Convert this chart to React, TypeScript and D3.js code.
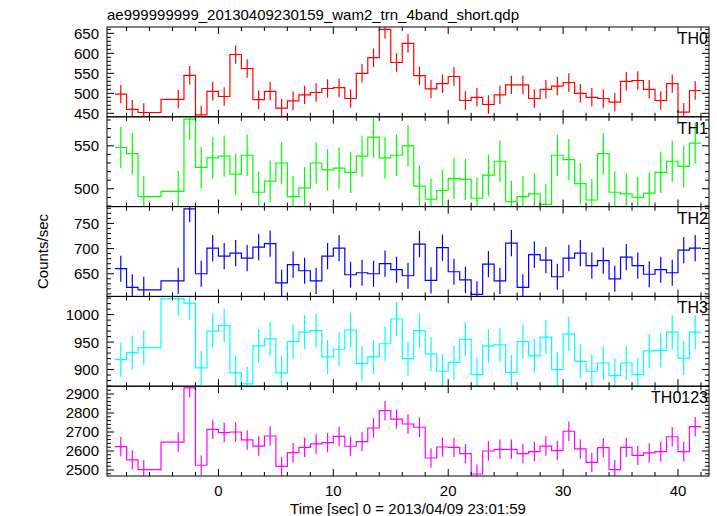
import React from "react";
import * as d3 from "d3";

const title = "ae999999999_20130409230159_wam2_trn_4band_short.qdp";
const xLabel = "Time [sec] 0 = 2013/04/09 23:01:59";
const yLabel = "Counts/sec";

const times = [
  -8.5, -7.5, -6.5, -3.5, -2.5, -1.5, -0.5, 0.5, 1.5, 2.5, 3.5, 4.5, 5.5, 6.5, 7.5, 8.5,
  9.5, 10.5, 11.5, 12.5, 13.5, 14.5, 15.5, 16.5, 17.5, 18.5, 19.5, 20.5, 21.5, 22.5, 23.5,
  24.5, 25.5, 26.5, 27.5, 28.5, 29.5, 30.5, 31.5, 32.5, 33.5, 34.5, 35.5, 36.5, 37.5, 38.5,
  39.5, 40.5, 41.5,
];

const th0 = [
  498, 460, 452, 485, 545, 446, 505, 492, 597, 562, 484, 505, 463, 481, 496, 502,
  512, 514, 487, 550, 589, 660, 577, 625, 544, 511, 524, 542, 482, 490, 472,
  496, 521, 521, 487, 510, 518, 527, 500, 490, 487, 478, 530, 532, 510, 482,
  524, 453, 507,
];
const th1 = [
  548, 541, 491, 497, 581, 525, 536, 538, 517, 539, 496, 509, 530, 491, 501, 530,
  522, 524, 519, 538, 560, 536, 539, 550, 503, 488, 498, 512, 511, 489, 516,
  532, 485, 491, 494, 482, 539, 534, 506, 487, 541, 496, 494, 490, 495, 519,
  532, 526, 553,
];
const th2 = [
  660, 623, 618, 636, 779, 650, 701, 685, 691, 681, 703, 710, 632, 668, 656, 636,
  685, 701, 648, 652, 650, 670, 658, 646, 709, 637, 702, 654, 638, 609, 669,
  636, 711, 623, 688, 677, 644, 681, 691, 666, 676, 640, 683, 666, 649, 658,
  652, 697, 701,
];
const th3 = [
  918, 931, 940, 1029, 1021, 903, 970, 980, 894, 874, 943, 956, 894, 951, 968, 971,
  923, 937, 972, 911, 923, 947, 992, 920, 971, 928, 897, 913, 955, 891, 943,
  945, 895, 951, 925, 959, 900, 965, 915, 897, 912, 889, 912, 891, 934, 935,
  968, 921, 968,
];
const th0123 = [
  2623, 2553, 2502, 2647, 2932, 2525, 2714, 2697, 2700, 2658, 2626, 2679, 2519, 2591, 2619, 2637,
  2644, 2677, 2625, 2649, 2721, 2812, 2768, 2742, 2725, 2563, 2621, 2619, 2586, 2479, 2600,
  2609, 2609, 2586, 2597, 2626, 2602, 2704, 2611, 2540, 2618, 2502, 2619, 2577, 2590, 2597,
  2675, 2597, 2728,
];

const seriesNames = ["TH0", "TH1", "TH2", "TH3", "TH0123"];
const seriesColors = ["#ff0000", "#00ff00", "#0000ff", "#00ffff", "#ff00ff"];
const seriesErrors = [23, 24, 26, 31, 51];
const yDomains: [number, number][] = [
  [441.3, 665.8],
  [479.3, 583.7],
  [605.0, 783.4],
  [869.8, 1033.1],
  [2468.4, 2941],
];
const yMajorTicks = [
  [450, 500, 550, 600, 650],
  [500, 550],
  [650, 700, 750],
  [900, 950, 1000],
  [2500, 2600, 2700, 2800, 2900],
];
const yMinorSteps = [10, 10, 10, 10, 20];
const xDomain: [number, number] = [-9.7, 42.7];
const xMajorTicks = [0, 10, 20, 30, 40];

const W = 717;
const H = 516;
const L = 107;
const R = 709;
const TOP = 27;
const BOT = 476;
const FONT = "'Liberation Sans', Arial, Helvetica, sans-serif";

export default function App() {
  const allSeries = [th0, th1, th2, th3, th0123];
  const nP = allSeries.length;
  const ph = (BOT - TOP) / nP;
  const x = d3.scaleLinear().domain(xDomain).range([L, R]);
  const xMinor = d3.range(-8, 43, 2);

  return (
    <svg
      width={W}
      height={H}
      style={{ position: "absolute", left: 0, top: 0, background: "#fff" }}
      fontFamily={FONT}
    >
      <defs>
        {allSeries.map((_, i) => (
          <clipPath id={`clip${i}`} key={i}>
            <rect x={L} y={TOP + i * ph} width={R - L} height={ph} />
          </clipPath>
        ))}
      </defs>
      <text x={L} y={20} fontSize={15} fill="#000">
        {title}
      </text>
      {allSeries.map((vals, i) => {
        const y0 = TOP + i * ph;
        const y1 = y0 + ph;
        const y = d3.scaleLinear().domain(yDomains[i]).range([y1, y0]);
        const n = times.length;
        let d = "";
        for (let k = 0; k < n; k++) {
          const left = k === 0 ? times[k] - 0.5 : (times[k - 1] + times[k]) / 2;
          const right = k === n - 1 ? times[k] + 0.5 : (times[k] + times[k + 1]) / 2;
          const yy = y(vals[k]);
          if (k === 0) d += `M${x(left)},${yy}`;
          else d += `V${yy}`;
          d += `H${x(right)}`;
        }
        const color = seriesColors[i];
        const err = seriesErrors[i];
        const [lo, hi] = yDomains[i];
        const minors = d3
          .range(Math.ceil(lo / yMinorSteps[i]) * yMinorSteps[i], hi, yMinorSteps[i])
          .filter((v) => !yMajorTicks[i].includes(v));
        return (
          <g key={i}>
            <g clipPath={`url(#clip${i})`}>
              <path d={d} fill="none" stroke={color} strokeWidth={1.2} />
              {times.map((t, k) => (
                <line
                  key={k}
                  x1={x(t)}
                  x2={x(t)}
                  y1={y(vals[k] - err)}
                  y2={y(vals[k] + err)}
                  stroke={color}
                  strokeWidth={1.2}
                />
              ))}
            </g>
            <rect x={L} y={y0} width={R - L} height={ph} fill="none" stroke="#000" strokeWidth={1} />
            {xMinor.map((t) => {
              const major = xMajorTicks.includes(t);
              const len = major ? 7 : 4;
              return (
                <g key={`xt${t}`}>
                  <line x1={x(t)} x2={x(t)} y1={y0} y2={y0 + len} stroke="#000" />
                  <line x1={x(t)} x2={x(t)} y1={y1} y2={y1 - len} stroke="#000" />
                </g>
              );
            })}
            {minors.map((v) => (
              <g key={`ym${v}`}>
                <line x1={L} x2={L + 4} y1={y(v)} y2={y(v)} stroke="#000" />
                <line x1={R} x2={R - 4} y1={y(v)} y2={y(v)} stroke="#000" />
              </g>
            ))}
            {yMajorTicks[i].map((v) => (
              <g key={`yM${v}`}>
                <line x1={L} x2={L + 7} y1={y(v)} y2={y(v)} stroke="#000" />
                <line x1={R} x2={R - 7} y1={y(v)} y2={y(v)} stroke="#000" />
                <text
                  x={L - 8}
                  y={y(v)}
                  textAnchor="end"
                  dominantBaseline="central"
                  fontSize={15}
                  fill="#000"
                >
                  {v}
                </text>
              </g>
            ))}
            <text x={R - 1} y={y0 + 17} textAnchor="end" fontSize={16} fill="#000">
              {seriesNames[i]}
            </text>
          </g>
        );
      })}
      {xMajorTicks.map((t) => (
        <text key={t} x={x(t)} y={BOT + 14} textAnchor="middle" dominantBaseline="central" fontSize={15} fill="#000">
          {t}
        </text>
      ))}
      <text x={(L + R) / 2} y={BOT + 32} textAnchor="middle" dominantBaseline="central" fontSize={15} fill="#000">
        {xLabel}
      </text>
      <text
        transform={`translate(42,${(TOP + BOT) / 2}) rotate(-90)`}
        textAnchor="middle"
        dominantBaseline="central"
        fontSize={15}
        fill="#000"
      >
        {yLabel}
      </text>
    </svg>
  );
}
